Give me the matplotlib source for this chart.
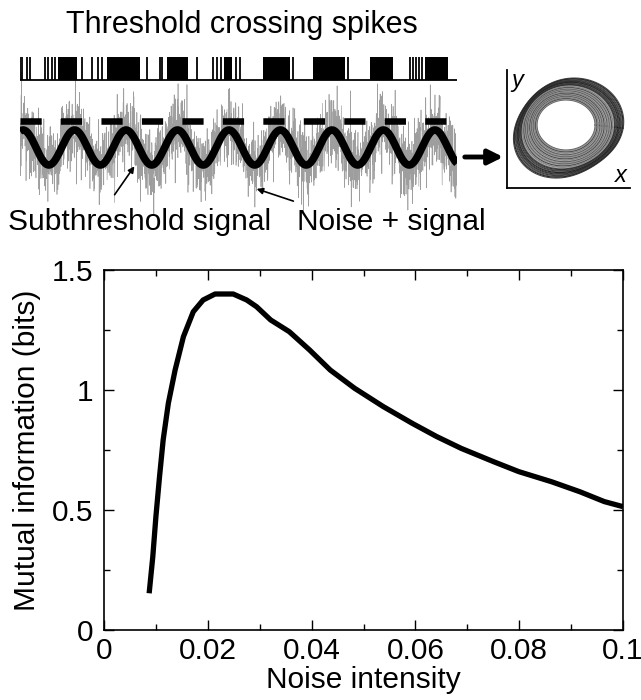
import numpy as np
import matplotlib
matplotlib.use("Agg")
import matplotlib.pyplot as plt
from matplotlib.ticker import MultipleLocator

plt.rcParams['font.family'] = ['Liberation Sans', 'DejaVu Sans']
FS = 21.5

# lower panel: mutual information vs noise intensity
noise_intensity = [0.0087, 0.0094, 0.0100, 0.0107, 0.0114, 0.0124, 0.0137, 0.0153,
                   0.0172, 0.0191, 0.0214, 0.0249, 0.0275, 0.0294, 0.0321, 0.0357,
                   0.0396, 0.0436, 0.0483, 0.0538, 0.0594, 0.0641, 0.0688, 0.0751,
                   0.0799, 0.0862, 0.0917, 0.0964, 0.1000]
mutual_info = [0.153, 0.305, 0.472, 0.639, 0.792, 0.945, 1.083, 1.222,
               1.326, 1.375, 1.400, 1.400, 1.375, 1.347, 1.292, 1.243,
               1.167, 1.083, 1.007, 0.931, 0.861, 0.806, 0.757, 0.701,
               0.660, 0.618, 0.576, 0.535, 0.514]

# upper schematic, time in signal periods
spike_times = [0.0, 0.04, 0.14, 0.19, 0.49, 0.54, 0.62, 0.68, 1.20, 1.40, 1.51,
               1.59, 2.47, 2.72, 2.76, 3.44, 3.75, 3.83, 3.90, 4.19, 4.27, 5.30,
               6.37, 7.57, 7.63, 7.69, 7.75, 7.81]
burst_starts = [0.74, 1.69, 2.85, 3.96, 4.72, 5.69, 6.80, 7.86]
burst_ends = [1.11, 2.33, 3.26, 4.12, 5.24, 6.31, 7.24, 8.31]

signal_amplitude = 1.0
signal_phase = 0.06
threshold = 1.49
noise_sd = 1.0
trace_end = 8.49
dash_end = 8.29
raster_base, raster_top = 3.86, 5.17

fig = plt.figure(figsize=(6.41, 7.0), dpi=100)

# ---- trace + raster ----
ax_tr = fig.add_axes([20/641, 1-215/700, 437/641, 165/700])
ax_tr.set_xlim(0, trace_end)
ax_tr.set_ylim(-3.857, 5.571)
ax_tr.axis('off')

rng = np.random.default_rng(3)  # texture for the noisy trace only
t_noise = np.linspace(0, trace_end, 2600)
sig_noise = signal_amplitude*np.cos(2*np.pi*(t_noise - signal_phase))
ax_tr.plot(t_noise, sig_noise + rng.normal(0, noise_sd, t_noise.size),
           color='0.62', lw=0.45, zorder=1)

t = np.linspace(0, trace_end, 800)
ax_tr.plot(t, signal_amplitude*np.cos(2*np.pi*(t - signal_phase)),
           color='k', lw=5.5, solid_capstyle='butt', zorder=3)
ax_tr.plot([0, dash_end], [threshold, threshold], color='k', lw=4.7,
           ls=(0, (3.25, 2.95)), zorder=3)

ax_tr.vlines(spike_times, raster_base, raster_top, color='k', lw=1.3)
ax_tr.broken_barh([(s, e - s) for s, e in zip(burst_starts, burst_ends)],
                  (raster_base, raster_top - raster_base), color='k', lw=0)
ax_tr.plot([0, 8.5], [raster_base, raster_base], color='k', lw=1.3)

# ---- inset limit cycle ----
ax_in = fig.add_axes([507/641, 1-188/700, 123/641, 118/700])
ax_in.set_xlim(0, 1)
ax_in.set_ylim(0, 1)
for s in ('top', 'right'):
    ax_in.spines[s].set_visible(False)
for s in ('left', 'bottom'):
    ax_in.spines[s].set_linewidth(1.3)
ax_in.set_xticks([])
ax_in.set_yticks([])
th = np.linspace(0, 2*np.pi, 400)
inner_shades = ['0.3', '0.5', '0.6', '0.15', '0.55', '0.45', '0.65', '0.25', '0.5', '0.6']
outer_shades = ['0.15', '0.3', '0.05', '0.2', '0.1', '0.25']
n_loops = 40
for i in range(n_loops):
    f = i/(n_loops - 1)
    cx = 0.48 + 0.016*f
    cy = 0.534 - 0.026*f
    rx = 0.236 + 0.205*f
    ry = 0.212 + 0.205*f
    bump = 1 + 0.09*f**2*np.cos(2*(th - np.pi/4)) + 0.02*f*np.cos(3*th + 0.5)
    x = cx + rx*bump*np.cos(th)
    y = cy + ry*bump*np.sin(th)
    if f > 0.7:
        col = outer_shades[i % len(outer_shades)]
    else:
        col = inner_shades[i % len(inner_shades)]
    ax_in.plot(x, y, color=col, lw=0.8, alpha=0.9)
ax_in.text(0.08, 0.91, 'y', fontsize=17, style='italic', ha='center', va='center')
ax_in.text(0.93, 0.11, 'x', fontsize=17, style='italic', ha='center', va='center')

# ---- texts and arrows (pixel overlay) ----
ax_ov = fig.add_axes([0, 0, 1, 1], zorder=5)
ax_ov.set_xlim(0, 641)
ax_ov.set_ylim(700, 0)
ax_ov.axis('off')
ax_ov.text(242, 33, 'Threshold crossing spikes', fontsize=22, ha='center', va='baseline')
ax_ov.text(8, 230, 'Subthreshold signal', fontsize=FS, ha='left', va='baseline')
ax_ov.text(297, 230, 'Noise + signal', fontsize=FS, ha='left', va='baseline')
ax_ov.annotate('', xy=(136, 164), xytext=(113, 197),
               arrowprops=dict(arrowstyle='-|>', color='k', lw=1.2, mutation_scale=9))
ax_ov.annotate('', xy=(254, 188), xytext=(296, 202),
               arrowprops=dict(arrowstyle='-|>', color='k', lw=1.2, mutation_scale=9))
ax_ov.annotate('', xy=(506, 157), xytext=(462, 157),
               arrowprops=dict(arrowstyle='-|>', color='k', lw=3.5, mutation_scale=22))

# ---- main plot ----
ax = fig.add_axes([104/641, 1-630/700, 519/641, 360/700])
ax.plot(noise_intensity, mutual_info, color='k', lw=3.8, solid_capstyle='butt')
ax.set_xlim(0, 0.1)
ax.set_ylim(0, 1.5)
ax.set_xticks([0, 0.02, 0.04, 0.06, 0.08, 0.1])
ax.set_xticklabels(['0', '0.02', '0.04', '0.06', '0.08', '0.1'])
ax.set_yticks([0, 0.5, 1, 1.5])
ax.set_yticklabels(['0', '0.5', '1', '1.5'])
ax.xaxis.set_minor_locator(MultipleLocator(0.01))
ax.yaxis.set_minor_locator(MultipleLocator(0.25))
ax.tick_params(which='both', direction='in', top=True, right=True, width=1.0,
               labelsize=FS)
ax.tick_params(which='major', length=7)
ax.tick_params(which='minor', length=4.5)
ax.tick_params(axis='x', pad=5)
ax.tick_params(axis='y', pad=8)
for s in ax.spines.values():
    s.set_linewidth(1.2)
ax.set_xlabel('Noise intensity', fontsize=FS)
ax.set_ylabel('Mutual information (bits)', fontsize=FS)
ax.xaxis.set_label_coords(0.5, -0.1)
ax.yaxis.set_label_coords(-0.121, 0.5)

fig.savefig('out.png', dpi=100)
